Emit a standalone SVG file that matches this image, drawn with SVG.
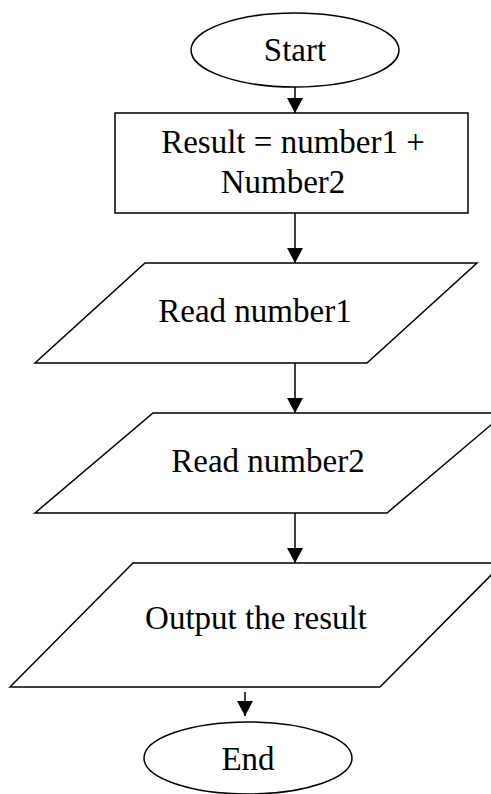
<svg xmlns="http://www.w3.org/2000/svg" width="491" height="794" viewBox="0 0 491 794">
<style>
.shape{fill:#fff;stroke:#000;stroke-width:1.5}
.lbl{font-family:"Liberation Serif","Times New Roman",serif;font-size:33px;fill:#000;text-anchor:middle}
.conn{stroke:#000;stroke-width:1.5;fill:none}
</style>
<defs>
<marker id="ah" markerUnits="userSpaceOnUse" markerWidth="16" markerHeight="16" refX="15" refY="8" orient="auto">
<path d="M0,0 L15,8 L0,16 Z" fill="#000"/>
</marker>
</defs>
<rect width="491" height="794" fill="#fff"/>
<g id="start">
<ellipse class="shape" cx="295" cy="50" rx="104" ry="37"/>
<text class="lbl" x="295" y="61">Start</text>
</g>
<g id="compute">
<rect class="shape" x="115" y="113" width="353" height="100"/>
<text class="lbl" x="293" y="153">Result = number1 +</text>
<text class="lbl" x="283" y="193">Number2</text>
</g>
<g id="read1">
<polygon class="shape" points="145,263 477,263 367,363 35,363"/>
<text class="lbl" x="255" y="322">Read number1</text>
</g>
<g id="read2">
<polygon class="shape" points="153,413 505,413 387,513 35,513"/>
<text class="lbl" x="268" y="472">Read number2</text>
</g>
<g id="output">
<polygon class="shape" points="133,563 503,563 380,687 10,687"/>
<text class="lbl" x="256" y="629">Output the result</text>
</g>
<g id="end">
<ellipse class="shape" cx="248" cy="758" rx="104" ry="36"/>
<text class="lbl" x="248" y="770">End</text>
</g>
<g id="connectors">
<line class="conn" x1="295" y1="87" x2="295" y2="113" marker-end="url(#ah)"/>
<line class="conn" x1="295" y1="213" x2="295" y2="263" marker-end="url(#ah)"/>
<line class="conn" x1="295" y1="363" x2="295" y2="413" marker-end="url(#ah)"/>
<line class="conn" x1="295" y1="513" x2="295" y2="563" marker-end="url(#ah)"/>
<line class="conn" x1="245" y1="692" x2="245" y2="716" marker-end="url(#ah)"/>
</g>
</svg>
